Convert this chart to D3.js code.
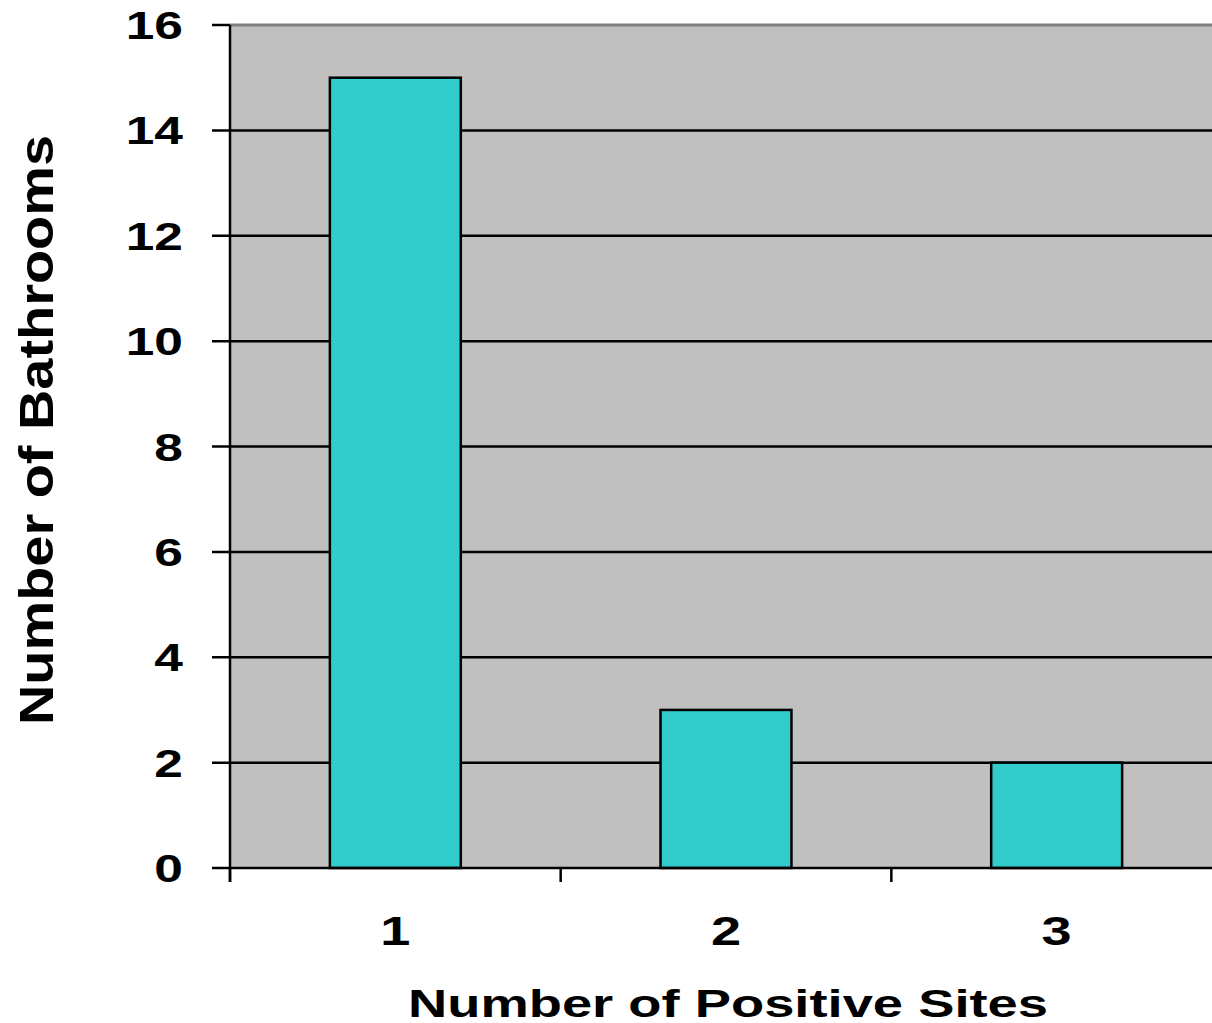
<!DOCTYPE html>
<html>
<head>
<meta charset="utf-8">
<script src="https://cdn.jsdelivr.net/npm/d3@7/dist/d3.min.js"></script>
<style>
html,body{margin:0;padding:0;background:#fff;overflow:hidden;}
svg{display:block;}
text{font-family:"Liberation Sans",Arial,sans-serif;font-weight:bold;fill:#000;}
</style>
</head>
<body>
<svg id="chart" width="1212" height="1023"></svg>
<script>
const categories = ["1", "2", "3"];
const values = [15, 3, 2];
const yTicks = [0, 2, 4, 6, 8, 10, 12, 14, 16];
const xTitle = "Number of Positive Sites";
const yTitle = "Number of Bathrooms";

const svg = d3.select("#chart");
const pLeft = 230, pRight = 1222, pTop = 25, pBottom = 868;

const x = d3.scaleBand().domain(categories).range([pLeft, pRight]).padding(0);
const y = d3.scaleLinear().domain([0, 16]).range([pBottom, pTop]);
const barW = x.bandwidth() * 0.396;

// plot background
svg.append("rect").attr("x", pLeft).attr("y", pTop)
  .attr("width", pRight - pLeft).attr("height", pBottom - pTop)
  .attr("fill", "#C0C0C0");

// top border
svg.append("line").attr("x1", pLeft).attr("x2", pRight)
  .attr("y1", pTop).attr("y2", pTop)
  .attr("stroke", "#808080").attr("stroke-width", 3);

// gridlines + y ticks
svg.append("g").selectAll("line").data(yTicks.filter(d => d > 0 && d < 16)).join("line")
  .attr("x1", 212).attr("x2", pRight)
  .attr("y1", d => y(d)).attr("y2", d => y(d))
  .attr("stroke", "#000").attr("stroke-width", 2.5);
svg.append("line").attr("x1", 212).attr("x2", pLeft)
  .attr("y1", y(16)).attr("y2", y(16))
  .attr("stroke", "#000").attr("stroke-width", 2.5);

// bars
svg.append("g").selectAll("rect").data(values).join("rect")
  .attr("x", (d, i) => x(categories[i]) + x.bandwidth() / 2 - barW / 2)
  .attr("y", d => y(d))
  .attr("width", barW)
  .attr("height", d => y(0) - y(d))
  .attr("fill", "#33CCCC")
  .attr("stroke", "#000").attr("stroke-width", 2.5);

// x axis line
svg.append("line").attr("x1", 212).attr("x2", pRight)
  .attr("y1", y(0)).attr("y2", y(0))
  .attr("stroke", "#000").attr("stroke-width", 2.5);
// y axis line
svg.append("line").attr("x1", pLeft).attr("x2", pLeft)
  .attr("y1", pTop).attr("y2", pBottom + 14)
  .attr("stroke", "#000").attr("stroke-width", 2.5);
// x ticks at band edges
svg.append("g").selectAll("line").data(categories).join("line")
  .attr("x1", d => x(d)).attr("x2", d => x(d))
  .attr("y1", pBottom).attr("y2", pBottom + 14)
  .attr("stroke", "#000").attr("stroke-width", 2.5);

// y tick labels
const sx = 1.32;
svg.append("g").selectAll("text").data(yTicks).join("text")
  .attr("transform", d => `translate(183,${y(d)}) scale(${sx},1)`)
  .attr("text-anchor", "end")
  .attr("dy", "0.36em")
  .style("font-size", "39px")
  .text(d => d);

// x tick labels
svg.append("g").selectAll("text").data(categories).join("text")
  .attr("transform", d => `translate(${x(d) + x.bandwidth() / 2},945) scale(${sx},1)`)
  .attr("text-anchor", "middle")
  .style("font-size", "41px")
  .text(d => d);

// x title
svg.append("text")
  .attr("x", 408).attr("y", 1017)
  .attr("textLength", 640).attr("lengthAdjust", "spacingAndGlyphs")
  .style("font-size", "39px")
  .text(xTitle);

// y title
svg.append("text")
  .attr("transform", "translate(53,725) rotate(-90)")
  .attr("x", 0).attr("y", 0)
  .attr("textLength", 590).attr("lengthAdjust", "spacingAndGlyphs")
  .style("font-size", "48px")
  .text(yTitle);
</script>
</body>
</html>
